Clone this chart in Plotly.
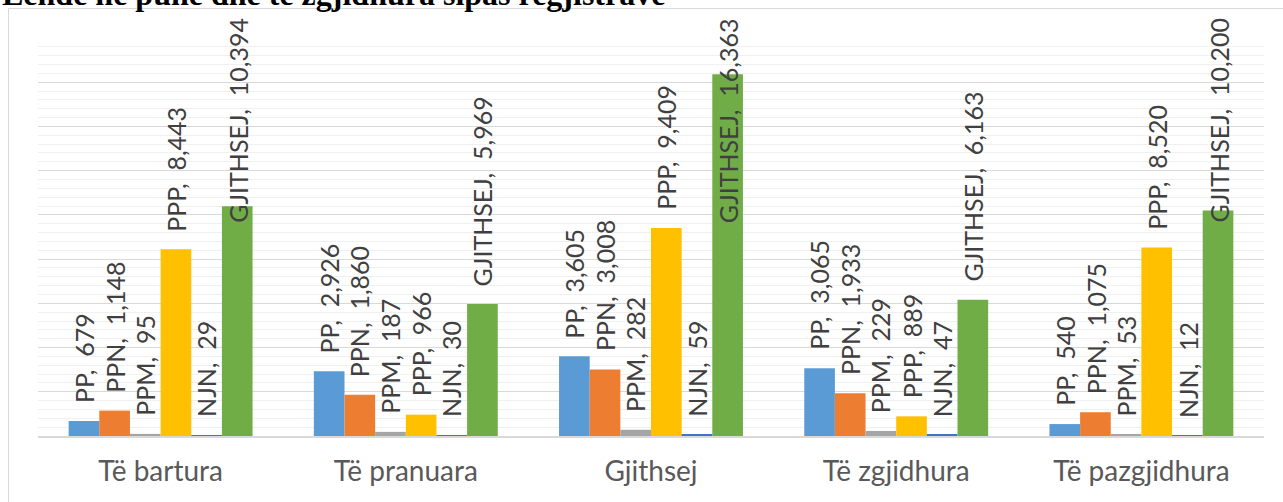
import plotly.graph_objects as go

categories = ["Të bartura", "Të pranuara", "Gjithsej", "Të zgjidhura", "Të pazgjidhura"]
series_names = ["PP", "PPN", "PPM", "PPP", "NJN", "GJITHSEJ"]
pp = [679, 2926, 3605, 3065, 540]
ppn = [1148, 1860, 3008, 1933, 1075]
ppm = [95, 187, 282, 229, 53]
ppp = [8443, 966, 9409, 889, 8520]
njn = [29, 30, 59, 47, 12]
gjithsej = [10394, 5969, 16363, 6163, 10200]
series_values = [pp, ppn, ppm, ppp, njn, gjithsej]
colors = ["#5B9BD5", "#ED7D31", "#A5A5A5", "#FFC000", "#4472C4", "#70AD47"]
title_text = "Lëndë në punë dhe të zgjidhura sipas regjistrave"

W, H = 1283, 502
ML, MR, MT, MB = 38, 19, 38, 66
PW = W - ML - MR
PH = H - MT - MB
YMAX = 18000
BARGAP = 0.25
LABEL_FONT = dict(family="Lato, Carlito, sans-serif", size=25, color="#404040")
CHAR_PX = 12.0   # approx label length per char
TOP_LIMIT_PX = 17  # labels are kept inside the chart area
GAP_PX = 17

fig = go.Figure()
for name, vals, col in zip(series_names, series_values, colors):
    fig.add_trace(go.Bar(
        x=categories, y=vals, name=name,
        marker=dict(color=col, line=dict(width=0)),
        hoverinfo="x+y+name",
    ))

# data labels (series name, value), rotated, clamped inside chart area
n = len(series_names)
group_px = PW / len(categories)
bar_px = group_px * (1 - BARGAP) / n
annotations = []
for i, (name, vals) in enumerate(zip(series_names, series_values)):
    xshift = (i - (n - 1) / 2) * bar_px
    for cat, v in zip(categories, vals):
        txt = f"{name},\u00a0 {v:,}"
        length = CHAR_PX * len(txt)
        top_px = MT + PH * (1 - v / YMAX)  # pixel of bar top
        if top_px - GAP_PX - length < TOP_LIMIT_PX:
            annotations.append(dict(
                x=cat, xref="x", y=1 + (MT - TOP_LIMIT_PX) / PH, yref="paper",
                text=txt, textangle=-90, showarrow=False, xshift=xshift,
                xanchor="center", yanchor="top", font=LABEL_FONT, borderpad=0))
        else:
            annotations.append(dict(
                x=cat, xref="x", y=v, yref="y",
                text=txt, textangle=-90, showarrow=False, xshift=xshift,
                yshift=GAP_PX, xanchor="center", yanchor="bottom",
                font=LABEL_FONT, borderpad=0))

# partially visible heading above the chart
annotations.append(dict(
    x=(1 - ML) / PW, xref="paper", y=1 + (MT - 13) / PH, yref="paper",
    text=f"<b>{title_text}</b>", showarrow=False, xanchor="left", yanchor="bottom",
    font=dict(family="Liberation Serif, Times New Roman, serif", size=32, color="#000000"),
    borderpad=0))

fig.update_layout(
    width=W, height=H,
    margin=dict(l=ML, r=MR, t=MT, b=MB),
    barmode="group", bargap=BARGAP, bargroupgap=0,
    plot_bgcolor="white", paper_bgcolor="white",
    showlegend=False,
    annotations=annotations,
    shapes=[dict(type="rect", xref="paper", yref="paper",
                 x0=(8.5 - ML) / PW, x1=(W + 10 - ML) / PW,
                 y0=-(MB + 10) / PH, y1=1 + (MT - 8.5) / PH,
                 line=dict(color="#D9D9D9", width=1), fillcolor="rgba(0,0,0,0)",
                 layer="below")],
)
fig.update_xaxes(
    showgrid=False, showline=True, linecolor="#D9D9D9", linewidth=1.5,
    ticks="", ticklabelstandoff=10,
    tickfont=dict(family="Lato, Carlito, sans-serif", size=28, color="#595959"),
)
fig.update_yaxes(
    range=[0, YMAX], dtick=2000, showticklabels=False, ticks="",
    showgrid=True, gridcolor="#D9D9D9", gridwidth=1.3, zeroline=False,
    minor=dict(dtick=400, showgrid=True, gridcolor="#F0F0F0", gridwidth=1.3),
)

fig.write_html("out.html", config={"displayModeBar": False},
               post_script="document.body.style.margin='0';")
